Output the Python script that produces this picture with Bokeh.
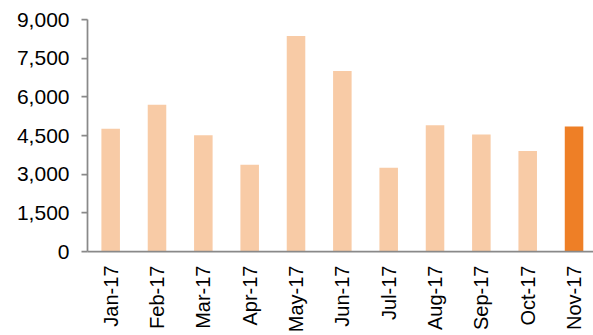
from math import pi

from bokeh.embed import file_html
from bokeh.models import ColumnDataSource, FixedTicker, NumeralTickFormatter, Range1d
from bokeh.plotting import figure
from bokeh.resources import INLINE

# Monthly volumes, Jan-17 to Nov-17
months = ["Jan-17", "Feb-17", "Mar-17", "Apr-17", "May-17", "Jun-17",
          "Jul-17", "Aug-17", "Sep-17", "Oct-17", "Nov-17"]
volumes = [4760, 5690, 4510, 3370, 8360, 7000, 3250, 4900, 4540, 3900, 4850]
y_ticks = [0, 1500, 3000, 4500, 6000, 7500, 9000]

LIGHT = "#F8CBA6"
HIGHLIGHT = "#EE7F26"
AXIS = "#898989"
FONT = "Liberation Sans"

idx = list(range(len(months)))
colors = [HIGHLIGHT if i == len(months) - 1 else LIGHT for i in idx]
source = ColumnDataSource(dict(x=idx, month=months, volume=volumes, color=colors))

p = figure(
    width=593, height=335,
    output_backend="svg", toolbar_location=None,
    x_range=Range1d(-0.5, 10.42), y_range=Range1d(0, 9000),
    min_border_left=87, min_border_right=0,
    min_border_top=19, min_border_bottom=84,
)
p.outline_line_color = None
p.xgrid.grid_line_color = None
p.ygrid.grid_line_color = None
p.background_fill_color = "white"
p.border_fill_color = "white"

p.vbar(x="x", top="volume", width=0.4, bottom=0, color="color",
       line_color=None, source=source)

# y axis
p.yaxis.ticker = FixedTicker(ticks=y_ticks)
p.yaxis.formatter = NumeralTickFormatter(format="0,0")
p.yaxis.axis_line_color = AXIS
p.yaxis.axis_line_width = 1.75
p.yaxis.major_tick_line_color = AXIS
p.yaxis.major_tick_line_width = 1.75
p.yaxis.major_tick_out = 6
p.yaxis.major_tick_in = 0
p.yaxis.minor_tick_line_color = None
p.yaxis.major_label_standoff = 12
p.yaxis.major_label_text_font = FONT
p.yaxis.major_label_text_font_size = "21px"
p.yaxis.major_label_text_color = "#000000"

# x axis with month labels
p.xaxis.ticker = FixedTicker(ticks=idx)
p.xaxis.major_label_overrides = {i: m for i, m in zip(idx, months)}
p.xaxis.major_label_orientation = pi / 2
p.xaxis.axis_line_color = AXIS
p.xaxis.axis_line_width = 1.75
p.xaxis.major_tick_line_color = None
p.xaxis.minor_tick_line_color = None
p.xaxis.major_label_standoff = 8
p.xaxis.major_label_text_font = FONT
p.xaxis.major_label_text_font_size = "20px"
p.xaxis.major_label_text_color = "#000000"

open("out.html", "w").write(file_html(p, INLINE))
